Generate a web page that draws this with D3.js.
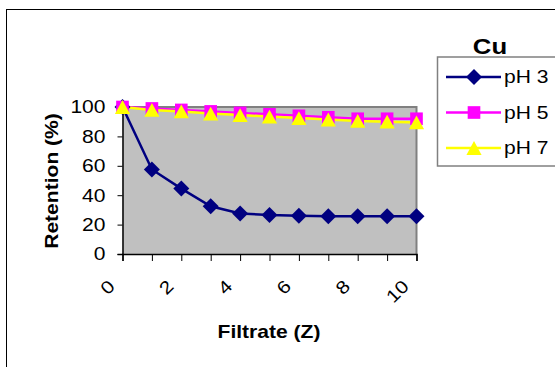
<!DOCTYPE html>
<html>
<head>
<meta charset="utf-8">
<script src="https://cdn.jsdelivr.net/npm/d3@7"></script>
<style>
  body { margin: 0; background: #fff; }
  svg { display: block; font-family: Arial, "Liberation Sans", sans-serif; }
</style>
</head>
<body>
<div id="chart"></div>
<script>
var w = 555
var h = 367
var stretch = 1.17   // the original text looks a bit wide

// data
var filtrate = [0, 1, 2, 3, 4, 5, 6, 7, 8, 9, 10]
var xLabels = ["0", "", "2", "", "4", "", "6", "", "8", "", "10"]
var yTicks = [0, 20, 40, 60, 80, 100]
var pH3 = [100, 57.5, 44.5, 32.5, 27.5, 26.5, 26, 25.7, 25.7, 25.7, 25.7]
var pH5 = [100, 99, 98, 97, 96, 95, 94, 93, 92, 92, 92]
var pH7 = [100, 98, 97, 95.5, 94.5, 93.5, 92.5, 91.5, 90.5, 90, 89.5]
var seriesNames = ["pH 3", "pH 5", "pH 7"]

// excel-like marker shapes
var diamond = { draw: function(ctx, size) {
  var r = Math.sqrt(size / 2)
  ctx.moveTo(0, -r); ctx.lineTo(r, 0); ctx.lineTo(0, r); ctx.lineTo(-r, 0); ctx.closePath()
}}
var square = { draw: function(ctx, size) {
  var r = Math.sqrt(size) / 2
  ctx.rect(-r, -r, 2 * r, 2 * r)
}}
var triangle = { draw: function(ctx, size) {
  var r = Math.sqrt(size) / 2
  ctx.moveTo(0, -r); ctx.lineTo(r * 1.1, r); ctx.lineTo(-r * 1.1, r); ctx.closePath()
}}

var series = [
  { name: seriesNames[0], values: pH3, color: "#000080", shape: diamond, size: 128 },
  { name: seriesNames[1], values: pH5, color: "#FF00FF", shape: square, size: 160 },
  { name: seriesNames[2], values: pH7, color: "#FFFF00", shape: triangle, size: 190 }
]

var svg = d3.select("#chart").append("svg").attr("width", w).attr("height", h)

function label(x, y, str, size, bold, anchor, rot) {
  return svg.append("text")
    .text(str)
    .attr("transform", "translate(" + x + "," + y + ") rotate(" + (rot || 0) + ") scale(" + stretch + ",1)")
    .attr("text-anchor", anchor || "start")
    .attr("font-size", size)
    .attr("font-weight", bold ? "bold" : "normal")
    .attr("fill", "#000")
}

// outer chart frame (runs off right/bottom edge)
svg.append("rect")
  .attr("x", 6.5).attr("y", 9.5)
  .attr("width", 600).attr("height", 400)
  .attr("fill", "#fff").attr("stroke", "#000").attr("stroke-width", 1)

var plot = { left: 122.5, right: 416.5, top: 107, bottom: 254 }

var x = d3.scaleLinear().domain([0, 10]).range([plot.left, plot.right])
var y = d3.scaleLinear().domain([0, 100]).range([plot.bottom, plot.top])

// plot area
svg.append("rect")
  .attr("x", plot.left).attr("y", plot.top)
  .attr("width", plot.right - plot.left).attr("height", plot.bottom - plot.top)
  .attr("fill", "#C0C0C0")
svg.append("path")
  .attr("d", "M" + plot.left + "," + plot.top + "H" + plot.right + "V" + plot.bottom)
  .attr("fill", "none").attr("stroke", "#808080").attr("stroke-width", 2)

// axes
var yAxis = svg.append("g")
  .attr("transform", "translate(" + plot.left + ",0)")
  .call(d3.axisLeft(y).tickValues(yTicks).tickSize(5).tickFormat(""))
yAxis.select(".domain").attr("stroke-width", 1.5)
yTicks.forEach(function(t) {
  label(plot.left - 17, y(t), t, 18, false, "end").attr("dy", "0.35em")
})

var xAxis = svg.append("g")
  .attr("transform", "translate(0," + plot.bottom + ")")
  .call(d3.axisBottom(x).tickValues(filtrate).tickSize(7).tickFormat(""))
xAxis.select(".domain").attr("stroke-width", 1.5)
filtrate.forEach(function(f, i) {
  if (xLabels[i] === "") return
  label(x(f) - 11, 283, xLabels[i], 18, false, "end", -45).attr("dy", "0.35em")
})

// lines and markers
var line = d3.line()
  .x(function(d, i) { return x(filtrate[i]) })
  .y(function(d) { return y(d) })

series.forEach(function(s) {
  svg.append("path")
    .attr("d", line(s.values))
    .attr("fill", "none")
    .attr("stroke", s.color)
    .attr("stroke-width", 2.5)
})
series.forEach(function(s) {
  svg.selectAll(null)
    .data(s.values)
    .enter()
    .append("path")
    .attr("d", d3.symbol().type(s.shape).size(s.size))
    .attr("transform", function(d, i) {
      return "translate(" + x(filtrate[i]) + "," + y(d) + ")"
    })
    .attr("fill", s.color)
})

// axis titles
label(58, 181, "Retention (%)", 18, true, "middle", -90)
label(269, 338, "Filtrate (Z)", 18, true, "middle")

// legend
label(490, 54, "Cu", 22, true, "middle")

svg.append("rect")
  .attr("x", 437.5).attr("y", 57)
  .attr("width", 140).attr("height", 109)
  .attr("fill", "#fff").attr("stroke", "#808080").attr("stroke-width", 1.5)

var legendY = d3.scalePoint().domain(seriesNames).range([77, 148])
series.forEach(function(s) {
  var ly = legendY(s.name)
  svg.append("line")
    .attr("x1", 446).attr("x2", 501)
    .attr("y1", ly).attr("y2", ly)
    .attr("stroke", s.color).attr("stroke-width", 2.5)
  svg.append("path")
    .attr("d", d3.symbol().type(s.shape).size(s.size))
    .attr("transform", "translate(474," + ly + ")")
    .attr("fill", s.color)
  label(504, ly, s.name, 18, false, "start").attr("dy", "0.35em")
})
</script>
</body>
</html>
